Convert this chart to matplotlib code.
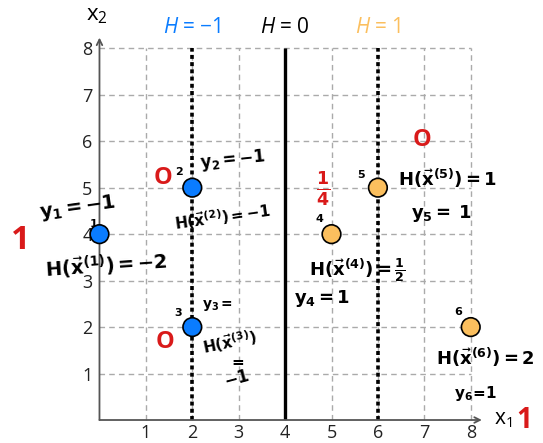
import matplotlib
matplotlib.use("Agg")
import matplotlib.pyplot as plt

plt.rcParams['font.family'] = ['Open Sans', 'DejaVu Sans']
plt.rcParams['mathtext.fontset'] = 'custom'
plt.rcParams['mathtext.rm'] = 'Open Sans'
plt.rcParams['mathtext.it'] = 'Open Sans:italic'
plt.rcParams['mathtext.bf'] = 'DejaVu Sans:bold'

# datos de los puntos
x1 = [0, 2, 2, 5, 6, 8]
x2 = [4, 5, 2, 4, 5, 2]
etiquetas = ['1', '2', '3', '4', '5', '6']
clase = [-1, -1, -1, 1, 1, 1]

# fronteras H = -1, 0, 1
fronteras = [2, 4, 6]
fronteras_txt = ['= \u22121', '= 0', '= 1']

ticks = [1, 2, 3, 4, 5, 6, 7, 8]

azul = '#0a7cff'
naranja = '#fbbf5e'
rojo = '#d91a1a'

fig = plt.figure(figsize=(5.43, 4.43), dpi=100)
ax = fig.add_axes([0.1832, 0.0519, 0.6837, 0.8391])
ax.set_xlim(0, 8)
ax.set_ylim(0, 8)
ax.set_xticks(ticks)
ax.set_yticks(ticks)
ax.tick_params(length=0, labelsize=13, colors='#222222')
ax.tick_params(axis='x', pad=3)
ax.tick_params(axis='y', pad=5)
ax.grid(True, ls=(0, (4, 3)), color='#aaaaaa', lw=1)
for l in ax.get_xgridlines() + ax.get_ygridlines():
    l.set_clip_on(False)
for s in ax.spines.values():
    s.set_visible(False)

# ejes con flecha
ax.annotate('', xy=(8.24, 0), xytext=(0, 0), annotation_clip=False,
            arrowprops=dict(arrowstyle='->', color='#555555', lw=1.3, shrinkA=0, shrinkB=0))
ax.annotate('', xy=(0, 8.23), xytext=(0, 0), annotation_clip=False,
            arrowprops=dict(arrowstyle='->', color='#555555', lw=1.3, shrinkA=0, shrinkB=0))
ax.text(8.5, 0.02, r'$\mathregular{x_1}$', fontsize=15, ha='left', va='center', clip_on=False)
ax.text(-0.05, 8.7, r'$\mathregular{x_2}$', fontsize=16, ha='center', va='center', clip_on=False)

# fronteras
ax.vlines(fronteras[1], 0, 8, color='black', lw=2.4, zorder=2)
for xf in [fronteras[0], fronteras[2]]:
    ax.vlines(xf, 0, 8, color='black', lw=2.6, linestyles=(0, (1.1, 0.9)), zorder=2)
cols_txt = [azul, 'black', naranja]
for xf, t, c in zip(fronteras, fronteras_txt, cols_txt):
    ax.text(xf, 8.45, r'$\mathit{H}$ ' + t, color=c, fontsize=15, ha='center', va='center')

# puntos
cols = [azul if c < 0 else naranja for c in clase]
ax.scatter(x1, x2, s=180, c=cols, edgecolors='black', linewidths=1.2, zorder=5, clip_on=False)

# anotaciones a mano
hw = dict(color='black', ha='center', va='center', clip_on=False)
ax.text(-0.48, 4.56, r'$\mathbf{y_1=-1}$', fontsize=14, rotation=8, **hw)
ax.text(0.15, 3.33, r'$\mathbf{H(\vec{x}^{(1)})=-2}$', fontsize=14, rotation=4, **hw)
ax.text(2.86, 5.59, r'$\mathbf{y_2=-1}$', fontsize=12, rotation=6, **hw)
ax.text(2.64, 4.36, r'$\mathbf{H(\vec{x}^{(2)})=-1}$', fontsize=11, rotation=8, **hw)
ax.text(2.55, 2.47, r'$\mathbf{y_3=}$', fontsize=10, **hw)
ax.text(2.8, 1.68, r'$\mathbf{H(\vec{x}^{(3)})}$', fontsize=11, rotation=12, **hw)
ax.text(2.96, 1.25, r'$\mathbf{=}$', fontsize=11, **hw)
ax.text(2.96, 0.88, r'$\mathbf{-1}$', fontsize=12, rotation=15, **hw)
ax.text(5.55, 3.23, r'$\mathbf{H(\vec{x}^{(4)})=\frac{1}{2}}$', fontsize=13, **hw)
ax.text(4.8, 2.62, r'$\mathbf{y_4=1}$', fontsize=13, **hw)
ax.text(7.49, 5.2, r'$\mathbf{H(\vec{x}^{(5)})=1}$', fontsize=13, **hw)
ax.text(7.36, 4.45, r'$\mathbf{y_5=\ 1}$', fontsize=13, **hw)
ax.text(8.31, 1.35, r'$\mathbf{H(\vec{x}^{(6)})=2}$', fontsize=13, **hw)
ax.text(8.11, 0.58, r'$\mathbf{y_6\!=\!1}$', fontsize=11, **hw)

# numeros de los puntos
num_pos = [(-0.12, 4.22), (1.73, 5.33), (1.69, 2.3), (4.75, 4.32), (5.65, 5.27), (7.73, 2.32)]
for (px, py), e in zip(num_pos, etiquetas):
    ax.text(px, py, r'$\mathbf{' + e + '}$', fontsize=8, **hw)

# pesos en rojo
rj = dict(color=rojo, ha='center', va='center', clip_on=False, fontweight='bold')
ax.text(-1.71, 3.87, '1', fontsize=24, **rj)
ax.text(1.37, 5.2, 'O', fontsize=17, **rj)
ax.text(1.41, 1.68, 'O', fontsize=17, **rj)
ax.text(4.82, 4.97, r'$\mathbf{\frac{1}{4}}$', fontsize=18, color=rojo, ha='center', va='center')
ax.text(6.94, 6.02, 'O', fontsize=17, **rj)
ax.text(9.15, 0.0, '1', fontsize=20, **rj)

fig.savefig('out.png', dpi=100)
